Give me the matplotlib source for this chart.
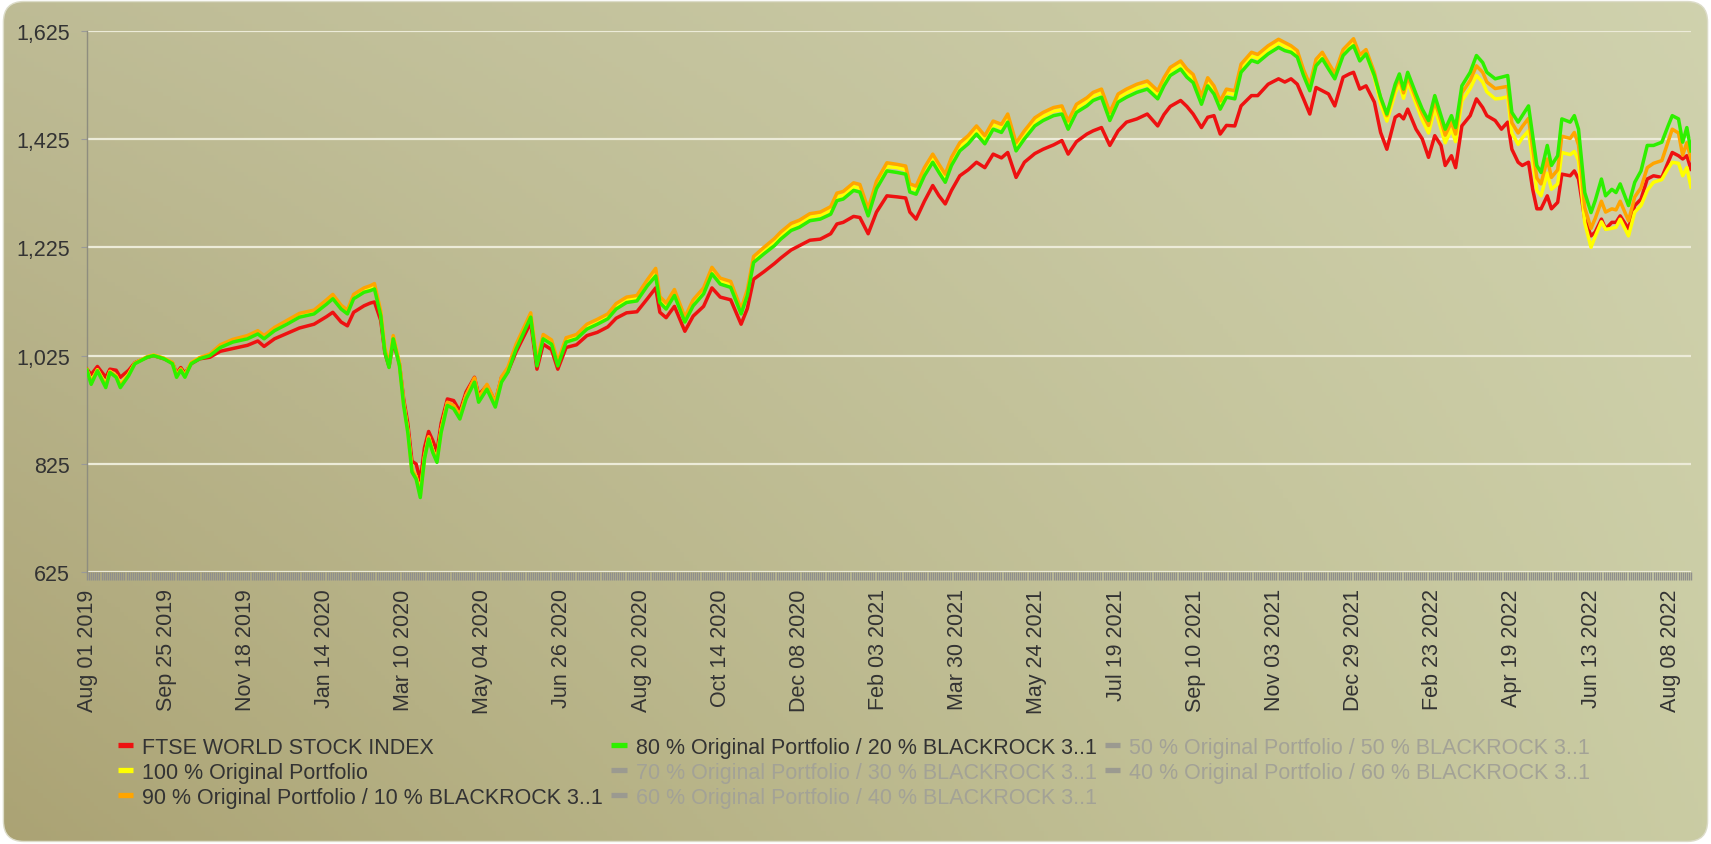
import numpy as np
import matplotlib
matplotlib.use("Agg")
import matplotlib.pyplot as plt
from matplotlib.patches import FancyBboxPatch
from matplotlib.lines import Line2D
from matplotlib.ticker import FuncFormatter

# ---------------- data ----------------
# trading-day index since Aug 01 2019
day_idx = [0, 2, 5, 9, 11, 14, 16, 20, 23, 29, 32, 37, 41, 43, 45, 47, 50, 54, 59, 64,
           70, 77, 82, 85, 90, 96, 102, 109, 115, 118, 122, 125, 128, 133, 136, 138, 141, 143, 145, 147,
           150, 152, 154, 156, 158, 160, 162, 164, 166, 168, 170, 173, 176, 179, 182, 186, 188, 192, 196,
           199, 202, 206, 213, 216, 219, 223, 226, 230, 235, 240, 245, 250, 254, 259, 264, 269, 273, 275, 278,
           282, 287, 291, 296, 300, 304, 309, 314, 317, 320, 325, 330, 333, 338, 342, 347, 352, 357, 360, 363,
           368, 371, 375, 379, 384, 389, 393, 395,
           398, 402, 406, 409, 412, 415, 419, 423, 427, 431, 435, 439, 442, 446, 450, 455, 459, 464, 468, 471,
           475, 480, 483, 487, 491, 495, 499, 504, 509, 514, 517, 520, 525, 528, 531, 535, 538, 541, 544, 547,
           551, 554, 559, 562, 567, 572, 575,
           578, 581, 584, 587, 590, 593, 596, 599, 603, 606, 608, 611, 614, 618, 621, 624, 628, 630, 632, 634,
           638, 641, 644, 647, 650, 652, 655, 657, 660, 664, 667, 670, 672, 676, 679, 682, 684, 687, 689, 692,
           694, 696, 698, 701, 703, 706, 708, 712, 714, 716, 719, 722, 724, 727, 729, 732, 734, 736, 740, 743,
           746, 749, 752, 756, 759, 761, 764, 766, 768, 770]

ftse = [1000, 990, 1005, 985, 1000, 998, 985, 998, 1012, 1022, 1025, 1019, 1012, 992, 1003, 992, 1010, 1019, 1022, 1033,
        1038, 1044, 1052, 1042, 1056, 1066, 1076, 1083, 1097, 1105, 1087, 1080, 1105, 1117, 1122, 1124, 1090, 1030, 1005, 1050,
        1010, 945, 900, 830, 825, 795, 855, 885, 868, 848, 900, 945, 942, 922, 958, 985, 952, 970, 940,
        985, 995, 1032, 1086, 1000, 1046, 1036, 1000, 1040, 1045, 1062, 1068, 1078, 1094, 1104, 1106, 1130, 1150, 1105, 1095,
        1116, 1070, 1098, 1116, 1150, 1133, 1128, 1083, 1112, 1166, 1180, 1195, 1205, 1220, 1228, 1238, 1240, 1250, 1268, 1271,
        1282, 1280, 1250, 1290, 1320, 1318, 1316, 1290,
        1277, 1310, 1339, 1320, 1305, 1330, 1357, 1368, 1382, 1372, 1397, 1390, 1400, 1354, 1382, 1398, 1406, 1414, 1422, 1397,
        1420, 1434, 1440, 1446, 1413, 1440, 1456, 1462, 1471, 1449, 1470, 1485, 1496, 1485, 1471, 1446, 1465, 1468, 1434, 1450,
        1449, 1486, 1505, 1505, 1526, 1536, 1530,
        1536, 1526, 1499, 1471, 1520, 1514, 1508, 1486, 1539, 1545, 1548, 1517, 1523, 1493, 1437, 1406, 1465, 1470, 1462, 1480,
        1443, 1425, 1391, 1431, 1413, 1376, 1394, 1372, 1449, 1468, 1499, 1483, 1468, 1459, 1443, 1456, 1406, 1382, 1376, 1382,
        1332, 1296, 1296, 1320, 1296, 1308, 1360, 1357, 1366, 1351, 1277, 1246, 1253, 1277, 1259, 1271, 1271, 1283, 1259, 1302,
        1314, 1351, 1357, 1354, 1382, 1400, 1394, 1388, 1394, 1369]

orig100 = [999, 978, 999, 972, 996, 988, 972, 991, 1011, 1023, 1026, 1020, 1012, 988, 1000, 988, 1012, 1021, 1027, 1043,
           1053, 1060, 1069, 1060, 1075, 1087, 1100, 1106, 1125, 1135, 1115, 1106, 1135, 1147, 1150, 1154, 1104, 1036, 1008, 1060,
           1010, 937, 887, 815, 802, 770, 838, 875, 850, 832, 888, 938, 932, 914, 951, 982, 945, 970, 937,
           983, 1000, 1043, 1100, 1011, 1061, 1051, 1011, 1055, 1061, 1079, 1088, 1098, 1116, 1128, 1131, 1160, 1180, 1129, 1117,
           1142, 1092, 1123, 1145, 1182, 1163, 1157, 1107, 1142, 1203, 1219, 1235, 1247, 1263, 1269, 1281, 1284, 1293, 1318, 1321,
           1337, 1334, 1290, 1340, 1374, 1372, 1368, 1335,
           1331, 1365, 1390, 1371, 1353, 1384, 1411, 1424, 1442, 1424, 1451, 1445, 1464, 1411, 1433, 1457, 1467, 1476, 1479, 1451,
           1482, 1494, 1504, 1510, 1467, 1501, 1510, 1519, 1525, 1507, 1531, 1550, 1562, 1547, 1537, 1497, 1531, 1516, 1488, 1510,
           1507, 1556, 1578, 1574, 1590, 1602, 1596,
           1591, 1582, 1548, 1520, 1566, 1579, 1560, 1541, 1584, 1596, 1602, 1574, 1584, 1538, 1490, 1458, 1510, 1527, 1500, 1530,
           1490, 1460, 1436, 1482, 1444, 1418, 1443, 1420, 1495, 1518, 1542, 1530, 1512, 1499, 1500, 1503, 1436, 1415, 1427, 1440,
           1385, 1330, 1320, 1362, 1332, 1342, 1400, 1396, 1402, 1385, 1270, 1225, 1245, 1272, 1258, 1260, 1262, 1277, 1246, 1290,
           1302, 1330, 1345, 1350, 1370, 1382, 1380, 1357, 1372, 1336]

mix90 = [998, 976, 998, 970, 995, 987, 970, 990, 1011, 1023, 1026, 1020, 1012, 988, 1000, 988, 1012, 1021, 1028, 1045,
         1055, 1062, 1071, 1062, 1077, 1090, 1103, 1109, 1128, 1138, 1118, 1109, 1138, 1150, 1154, 1158, 1107, 1038, 1010, 1062,
         1010, 937, 887, 814, 801, 768, 837, 874, 849, 831, 888, 939, 933, 915, 952, 984, 947, 972, 939,
         986, 1003, 1046, 1104, 1014, 1064, 1054, 1014, 1058, 1064, 1083, 1092, 1102, 1121, 1133, 1136, 1165, 1186, 1134, 1122,
         1147, 1096, 1128, 1150, 1188, 1168, 1162, 1111, 1147, 1208, 1225, 1241, 1253, 1269, 1275, 1287, 1290, 1300, 1325, 1328,
         1344, 1341, 1296, 1347, 1381, 1378, 1375, 1342,
         1338, 1372, 1397, 1378, 1360, 1391, 1418, 1431, 1449, 1431, 1458, 1452, 1471, 1418, 1440, 1464, 1474, 1483, 1486, 1458,
         1489, 1501, 1511, 1517, 1474, 1508, 1517, 1526, 1532, 1514, 1538, 1557, 1569, 1554, 1544, 1504, 1538, 1523, 1495, 1517,
         1514, 1563, 1585, 1581, 1597, 1609, 1603,
         1597, 1588, 1553, 1525, 1572, 1585, 1565, 1546, 1590, 1602, 1610, 1580, 1590, 1548, 1500, 1468, 1520, 1538, 1510, 1540,
         1500, 1472, 1450, 1495, 1458, 1432, 1456, 1434, 1510, 1533, 1560, 1548, 1530, 1518, 1520, 1522, 1455, 1436, 1448, 1463,
         1408, 1353, 1342, 1388, 1354, 1368, 1430, 1426, 1437, 1414, 1298, 1260, 1278, 1310, 1290, 1296, 1294, 1310, 1274, 1318,
         1335, 1372, 1380, 1385, 1420, 1443, 1436, 1395, 1418, 1388]

mix80 = [998, 972, 997, 966, 994, 985, 966, 988, 1010, 1022, 1025, 1019, 1010, 985, 998, 985, 1010, 1019, 1025, 1040,
         1050, 1056, 1065, 1056, 1071, 1083, 1096, 1102, 1120, 1130, 1111, 1102, 1130, 1142, 1145, 1148, 1099, 1031, 1003, 1056,
         1006, 933, 883, 810, 797, 763, 834, 871, 846, 828, 883, 933, 927, 908, 945, 976, 939, 963, 930,
         976, 994, 1037, 1096, 1006, 1056, 1046, 1006, 1050, 1056, 1074, 1083, 1093, 1111, 1123, 1126, 1154, 1172, 1123, 1111,
         1136, 1087, 1117, 1139, 1176, 1157, 1151, 1102, 1136, 1197, 1213, 1228, 1240, 1256, 1262, 1274, 1277, 1286, 1311, 1314,
         1330, 1327, 1283, 1333, 1366, 1363, 1360, 1327,
         1323, 1357, 1382, 1363, 1345, 1376, 1403, 1416, 1434, 1416, 1443, 1437, 1456, 1403, 1425, 1449, 1459, 1468, 1471, 1443,
         1474, 1486, 1496, 1502, 1459, 1493, 1502, 1511, 1517, 1499, 1523, 1542, 1554, 1539, 1529, 1489, 1523, 1508, 1480, 1502,
         1499, 1548, 1570, 1566, 1582, 1594, 1588,
         1585, 1576, 1542, 1514, 1560, 1573, 1554, 1536, 1579, 1591, 1597, 1569, 1582, 1542, 1502, 1471, 1526, 1545, 1517, 1548,
         1508, 1480, 1459, 1505, 1468, 1443, 1468, 1446, 1523, 1548, 1579, 1566, 1548, 1536, 1539, 1542, 1474, 1456, 1468, 1486,
         1431, 1376, 1363, 1413, 1376, 1394, 1462, 1456, 1468, 1443, 1326, 1289, 1311, 1351, 1320, 1332, 1326, 1342, 1302, 1345,
         1366, 1413, 1413, 1419, 1449, 1468, 1462, 1419, 1446, 1403]

tick_labels = ["Aug 01 2019", "Sep 25 2019", "Nov 18 2019", "Jan 14 2020", "Mar 10 2020",
               "May 04 2020", "Jun 26 2020", "Aug 20 2020", "Oct 14 2020", "Dec 08 2020",
               "Feb 03 2021", "Mar 30 2021", "May 24 2021", "Jul 19 2021", "Sep 10 2021",
               "Nov 03 2021", "Dec 29 2021", "Feb 23 2022", "Apr 19 2022", "Jun 13 2022",
               "Aug 08 2022"]
tick_step = 38
n_days = 771

y_ticks = [625, 825, 1025, 1225, 1425, 1625]

series_labels = ["FTSE WORLD STOCK INDEX", "100 % Original Portfolio",
                 "90 % Original Portfolio / 10 % BLACKROCK 3..1",
                 "80 % Original Portfolio / 20 % BLACKROCK 3..1",
                 "70 % Original Portfolio / 30 % BLACKROCK 3..1",
                 "60 % Original Portfolio / 40 % BLACKROCK 3..1",
                 "50 % Original Portfolio / 50 % BLACKROCK 3..1",
                 "40 % Original Portfolio / 60 % BLACKROCK 3..1"]
series_colors = ["#ee1111", "#ffff00", "#ffa500", "#2ef000"]
hidden_color = "#9b9a90"
hidden_text = "#a3a296"

# ---------------- figure ----------------
plt.rcParams['font.family'] = ['Liberation Sans', 'DejaVu Sans']
W, H = 1711, 845
fig = plt.figure(figsize=(W / 100, H / 100), dpi=100)
fig.patch.set_facecolor("white")

# background gradient with rounded corners
bg = fig.add_axes([0, 0, 1, 1], zorder=-10)
bg.set_axis_off()
tl = np.array([0.745, 0.735, 0.585])
tr = np.array([0.815, 0.822, 0.680])
bl = np.array([0.670, 0.638, 0.455])
br = np.array([0.792, 0.800, 0.640])
gy, gx = np.mgrid[0:1:200j, 0:1:400j]
grad = ((1 - gx)[..., None] * ((1 - gy)[..., None] * tl + gy[..., None] * bl)
        + gx[..., None] * ((1 - gy)[..., None] * tr + gy[..., None] * br))
im = bg.imshow(grad, extent=[0, 1, 0, 1], aspect="auto", origin="upper")
bg.set_xlim(0, 1)
bg.set_ylim(0, 1)
clip = FancyBboxPatch((0.002, 0.003), 0.996, 0.994,
                      boxstyle="round,pad=0,rounding_size=0.012",
                      transform=bg.transAxes, facecolor="none",
                      edgecolor="#dcdcc8", lw=1.0, mutation_aspect=W / H)
bg.add_patch(clip)
im.set_clip_path(clip)

# main axes
ax = fig.add_axes([87 / W, 1 - 573.3 / H, (1691 - 87) / W, (573.3 - 31.6) / H])
ax.set_facecolor("none")
ax.set_xlim(0, n_days - 1)
ax.set_ylim(625, 1625)

for vals, col in zip([ftse, orig100, mix90, mix80], series_colors):
    ax.plot(day_idx, vals, color=col, lw=2.5, solid_joinstyle="round", zorder=3)

ax.set_yticks(y_ticks)
ax.yaxis.set_major_formatter(FuncFormatter(lambda v, _: f"{int(v):,}"))
ax.yaxis.grid(True, color="#ecebd8", lw=1.6)
ax.set_axisbelow(True)

ax.set_xticks(list(range(0, tick_step * len(tick_labels), tick_step)))
ax.set_xticklabels(tick_labels, rotation=90)
ax.set_xticks(list(range(n_days)), minor=True)

ax.tick_params(axis="x", which="both", length=5.5, width=1.0, color="#8f8f8c",
               labelsize=15.5, labelcolor="#333333", pad=6)
ax.tick_params(axis="y", which="major", length=4, width=0.8, color="#999999",
               labelsize=15.5, labelcolor="#333333", pad=8.5)

for s in ["top", "right", "bottom"]:
    ax.spines[s].set_visible(False)
ax.spines["left"].set_color("#8e8d7e")
ax.spines["left"].set_linewidth(1.0)

# legend
handles = []
for i, lab in enumerate(series_labels):
    c = series_colors[i] if i < 4 else hidden_color
    handles.append(Line2D([], [], color=c, lw=3.8, solid_capstyle="butt"))
leg = fig.legend(handles, series_labels, loc="upper left",
                 bbox_to_anchor=(118 / W, 1 - 738 / H), ncol=3, frameon=False,
                 fontsize=15.5, handlelength=0.7, handletextpad=0.42,
                 columnspacing=0.4, labelspacing=0.18, borderpad=0, borderaxespad=0)
for i, t in enumerate(leg.get_texts()):
    t.set_color("#333333" if i < 4 else hidden_text)

fig.savefig("out.png", dpi=100)
